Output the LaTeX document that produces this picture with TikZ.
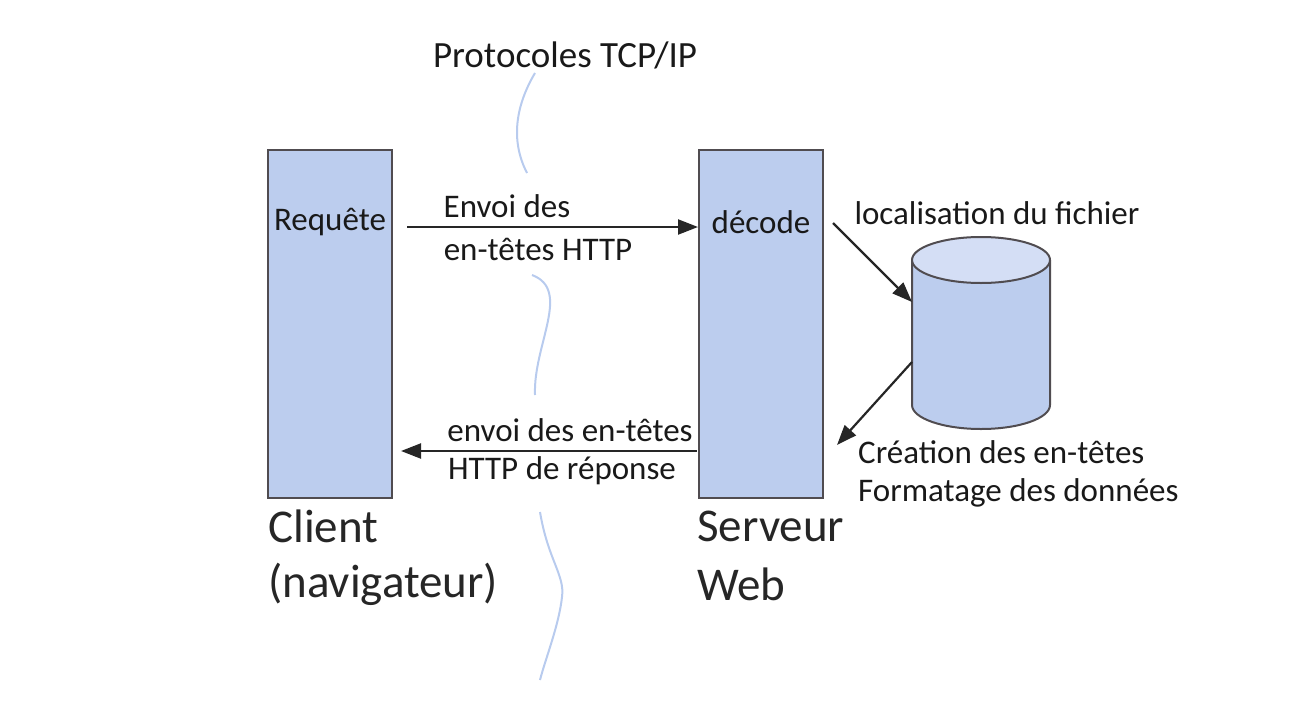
\documentclass[tikz,border=0pt]{standalone}
\usepackage{fontspec}
\setmainfont{Carlito}
\usetikzlibrary{arrows.meta}
\definecolor{boxfill}{RGB}{188,205,238}
\definecolor{topfill}{RGB}{212,222,245}
\definecolor{boxline}{RGB}{80,76,80}
\definecolor{wave}{RGB}{184,203,238}
\tikzset{
  colbox/.style={draw=boxline, line width=2pt, fill=boxfill, minimum width=124pt, minimum height=348pt, inner sep=0pt},
  lbl/.style={inner sep=0pt, font=\fontsize{33}{36}\selectfont, text=black!90},
  big/.style={inner sep=0pt, anchor=west, font=\fontsize{47}{50}\selectfont, text=black!85},
  arr/.style={draw=black!85, line width=2.2pt, -{Triangle[length=20pt,width=15pt]}},
  wavy/.style={draw=wave, line width=2pt},
}
\begin{document}
\begin{tikzpicture}[x=1pt,y=-1pt]
\useasboundingbox (0,0) rectangle (1289,709);
% boxes
\node[colbox] (client) at (330,324) {};
\node[colbox] (server) at (761,324) {};
\node[lbl] (req) at (330,222) {Requête};
\node[lbl] (dec) at (761,222) {décode};
% cylinder
\fill[boxfill] (912,260) rectangle (1050,405);
\fill[boxfill] (981,405) ellipse[x radius=69, y radius=24];
\draw[boxline, line width=2pt] (912,260) -- (912,405) arc[start angle=180, end angle=0, x radius=69, y radius=24] -- (1050,260);
\draw[boxline, line width=2pt, fill=topfill] (981,260) ellipse[x radius=69, y radius=23];
\coordinate (dbin) at (912,302);
\coordinate (dbout) at (912,362);
% labels
\node[lbl, font=\fontsize{37}{40}\selectfont] (tcp) at (565,55) {Protocoles TCP/IP};
\node[lbl] (l1a) at (507,206) {Envoi des};
\node[lbl] (l1b) at (538,249) {en-têtes HTTP};
\node[lbl] (l2a) at (570,430) {envoi des en-têtes};
\node[lbl] (l2b) at (562,471) {HTTP de réponse};
\node[lbl] (loc) at (997,213) {localisation du fichier};
\node[lbl, anchor=west] (cr) at (858,452) {Création des en-têtes};
\node[lbl, anchor=west] (fo) at (858,493) {Formatage des données};
\node[big] (cl1) at (268,526) {Client};
\node[big] (cl2) at (268,584) {(navigateur)};
\node[big] (sv1) at (697,526) {Serveur};
\node[big] (sv2) at (697,584) {Web};
% arrows
\coordinate (a1s) at (407,227);
\coordinate (a2s) at (697,451);
\draw[arr] (a1s) -- (server.west |- a1s);
\draw[arr] (a2s) -- ([xshift=8pt]client.east |- a2s);
\coordinate (a3s) at (833,223);
\draw[arr] (a3s) -- (dbin);
\coordinate (a4e) at (837,445);
\draw[arr] (dbout) -- (a4e);
% TCP/IP waves
\draw[wavy] (535,73) .. controls (516,105) and (510,140) .. (527,173);
\draw[wavy] (532,275) .. controls (572,290) and (533,345) .. (535,395);
\draw[wavy] (540,512) .. controls (548,560) and (565,575) .. (562,597) .. controls (559,625) and (545,660) .. (540,680);
\end{tikzpicture}
\end{document}
